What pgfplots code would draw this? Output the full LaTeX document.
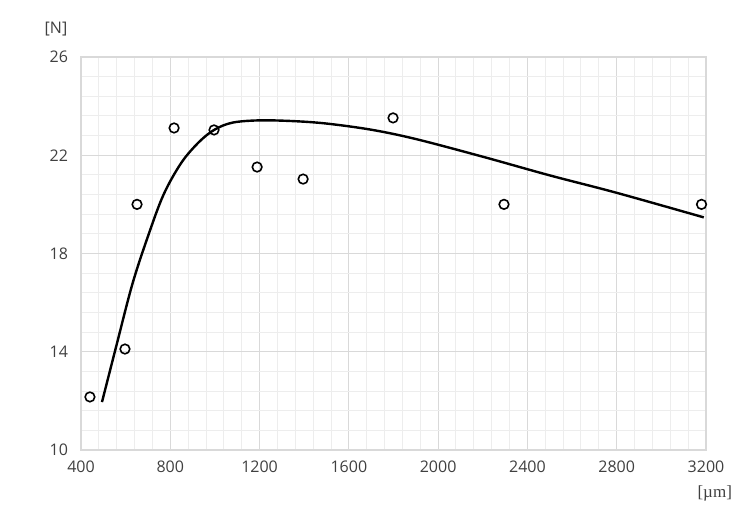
\documentclass[border=0pt]{standalone}
\usepackage{fontspec}
\setmainfont{Open Sans}
\newfontfamily\serifu{Liberation Serif}
\usepackage{pgfplots}
\pgfplotsset{compat=1.18}
\definecolor{majgrid}{HTML}{D9D9D9}
\definecolor{mingrid}{HTML}{EDEDED}
\definecolor{txt}{HTML}{404040}
\begin{document}
\begin{tikzpicture}[x=1pt,y=1pt]
\begin{axis}[
  scale only axis,
  width=312.5pt, height=196.5pt,
  xmin=400, xmax=3200, ymin=10, ymax=26,
  xtick={400,800,...,3200}, ytick={10,14,...,26},
  minor x tick num=4, minor y tick num=4,
  grid=both,
  major grid style={majgrid, line width=0.6pt},
  minor grid style={mingrid, line width=0.5pt},
  axis line style={majgrid, line width=0.6pt},
  major tick length=0pt, minor tick length=0pt,
  tick style={draw=none},
  ticklabel style={font=\fontsize{8}{9}\selectfont, text=txt},
  /pgf/number format/assume math mode=true,
  /pgf/number format/1000 sep={},
  xticklabel style={yshift=-2pt},
  yticklabel style={xshift=-3pt},
  clip=false,
]
\coordinate (bl) at (rel axis cs:0,0);
\addplot[black, line width=1.2pt, smooth, tension=0.55] coordinates {
(494,11.95) (560,14.3) (630,16.75) (700,18.7) (770,20.4) (850,21.7)
(930,22.55) (1000,23.05) (1080,23.33) (1200,23.42) (1350,23.39)
(1500,23.29) (1700,23.04) (1900,22.66) (2200,21.94) (2500,21.18)
(2800,20.47) (3190,19.47)
};
\addplot[only marks, mark=o, mark size=2.4pt, mark options={black, line width=0.8pt, fill=white}] coordinates {
(440,12.16) (597,14.11) (651,20.0) (817,23.11) (996,23.03) (1189,21.52)
(1395,21.03) (1798,23.52) (2295,20.0) (3180,20.0)
};
\node[font=\fontsize{8}{9}\selectfont, text=txt] at (rel axis cs:-0.04,1.07) {[N]};
\node[font={\serifu\fontsize{8.5}{9}\selectfont}, text=txt] at (rel axis cs:1.014,-0.11) {[µm]};
\end{axis}
\pgfresetboundingbox
\path (bl) ++(-40.5pt,-34pt) rectangle ++(375pt,259pt);
\end{tikzpicture}
\end{document}
